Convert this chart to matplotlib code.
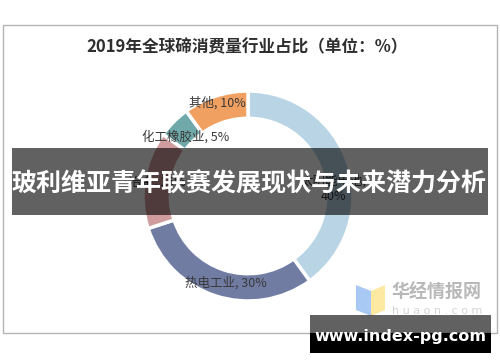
import matplotlib.pyplot as plt
from matplotlib.patches import Rectangle, Polygon

plt.rcParams['font.family'] = ['Noto Sans CJK SC', 'DejaVu Sans']

# 数据
labels = ['太阳能电池', '热电工业', '冶金', '化工橡胶业', '其他']
values = [40, 30, 15, 5, 10]
colors = ['#b8d4e5', '#717ca3', '#d09c9d', '#70a9aa', '#f0a060']
title = '2019年全球碲消费量行业占比（单位：%）'
banner = '玻利维亚青年联赛发展现状与未来潜力分析'
site = 'www.index-pg.com'

W, H = 500, 362
fig = plt.figure(figsize=(W / 100, H / 100), dpi=100)

# 背景层：边框、标题、水印
bg = fig.add_axes([0, 0, 1, 1], zorder=0)
bg.set_xlim(0, W)
bg.set_ylim(H, 0)
bg.axis('off')
bg.add_patch(Rectangle((3, 25), 494, 308, fill=False, edgecolor='#b4b4b4', lw=1))
bg.text(247, 47, title, ha='center', va='center', fontsize=12,
        fontweight='bold', color='#2e2e2e')

# 水印
bg.add_patch(Polygon([(356, 285), (371, 291), (371, 316), (356, 310)],
                     closed=True, color='#a9c9f5', lw=0))
bg.add_patch(Polygon([(371, 291), (385, 285), (385, 310), (371, 316)],
                     closed=True, color='#fde9a2', lw=0))
bg.text(437, 292, '华经情报网', ha='center', va='center', fontsize=13,
        fontweight='bold', color='#b8b8b8')
bg.text(437, 311, 'h u a o n . c o m', ha='center', va='center', fontsize=8,
        color='#d4d4d4', family=['DejaVu Sans'])

# 环形图
ax = fig.add_axes([143 / W, (H - 301) / H, 210 / W, 210 / H], zorder=1)
ax.pie(values, colors=colors, startangle=90, counterclock=False,
       wedgeprops=dict(width=0.26, edgecolor='white', linewidth=2.5))
ax.set_xlim(-1, 1)
ax.set_ylim(-1, 1)
ax.axis('off')

lab_kw = dict(ha='center', va='center', fontsize=9, color='#383838')
ax.text(-0.29, 0.886, f'{labels[4]}, {values[4]}%', **lab_kw)
ax.text(-0.59, 0.56, f'{labels[3]}, {values[3]}%', **lab_kw)
ax.text(-0.21, -0.83, f'{labels[1]}, {values[1]}%', **lab_kw)
ax.text(0.81, 0.07, f'{labels[0]},\n{values[0]}%', **lab_kw)
ax.text(-0.86, 0.12, f'{labels[2]}, {values[2]}%', **lab_kw)

# 覆盖层：横幅与网址
top = fig.add_axes([0, 0, 1, 1], zorder=2)
top.set_xlim(0, W)
top.set_ylim(H, 0)
top.axis('off')
top.patch.set_alpha(0)
top.add_patch(Rectangle((12, 148), 476, 67, color='black', alpha=0.62, lw=0))
top.text(249, 184, banner, ha='center', va='center', fontsize=18,
         fontweight='bold', color='white')
top.add_patch(Rectangle((310, 315), 181, 18, color='black', alpha=0.62, lw=0))
top.add_patch(Rectangle((310, 333), 181, 20, color='black', lw=0))
top.text(400, 337, site, ha='center', va='center', fontsize=11.5,
         fontweight='bold', color='white', family=['DejaVu Sans'])

fig.savefig('out.png', dpi=100)
